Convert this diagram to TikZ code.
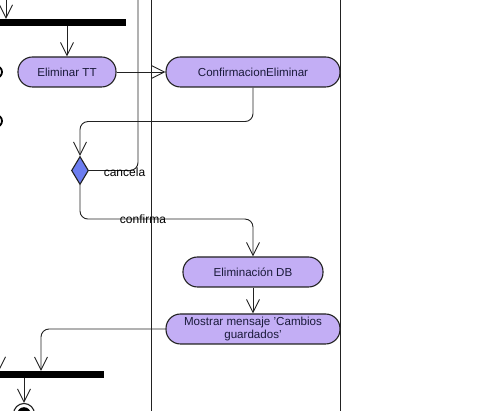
\documentclass[tikz,border=0pt]{standalone}
\usepackage{fontspec}
\setmainfont{Liberation Sans}
\usetikzlibrary{arrows.meta,shapes.geometric}
\definecolor{actfill}{HTML}{C3AEF5}
\definecolor{decfill}{HTML}{6C7DF0}
\definecolor{txt}{HTML}{1A1A3A}
\definecolor{ln}{HTML}{222222}
\begin{document}
\begin{tikzpicture}[x=1pt,y=-1pt,
  actbox/.style={draw=ln, line width=1.1pt, fill=actfill, rounded corners=14.5pt,
    minimum height=30pt, inner sep=0pt, font=\fontsize{11.6}{12.5}\selectfont, text=txt, align=center},
  flow/.style={draw=ln, line width=0.9pt, rounded corners=8pt, -{Straight Barb[length=13pt,width=13pt]}},
  plainflow/.style={draw=ln, line width=0.9pt, rounded corners=8pt},
  barnode/.style={fill=black, inner sep=0pt, minimum height=7pt},
  lbl/.style={font=\fontsize{12}{12}\selectfont, inner sep=0pt, text=black},
  lane/.style={draw=ln, line width=0.9pt}]
\clip (0,0) rectangle (488,411);
\fill[white] (0,0) rectangle (488,411);
% swimlane lines
\draw[lane] (151,-2) -- (151,413);
\draw[lane] (340,-2) -- (340,413);
% partial nodes at the left edge
\draw[line width=1.8pt] (-4,72) circle (6);
\draw[line width=1.8pt] (-4,121) circle (6);
% nodes
\node[barnode, minimum width=136pt] (bar1) at (58,22.5) {};
\node[barnode, minimum width=114pt] (bar2) at (47,374.5) {};
\node[actbox, minimum width=98pt] (elim) at (67,72) {Eliminar TT};
\node[actbox, minimum width=174pt] (conf) at (253,72) {ConfirmacionEliminar};
\node[diamond, draw=ln, line width=1.1pt, fill=decfill, inner sep=0pt, minimum width=17pt, minimum height=28pt] (dia) at (80,170.5) {};
\node[actbox, minimum width=140pt] (edb) at (253,272) {Eliminación DB};
\node[actbox, minimum width=174pt] (most) at (253,329) {Mostrar mensaje 'Cambios\\guardados'};
\node[circle, draw=ln, line width=1.1pt, fill=white, minimum size=21pt, inner sep=0pt] (fin) at (24,414) {};
\fill[black] (fin.center) circle (6.8);
% free ends
\coordinate (in1) at (6,-5);
\coordinate (in2) at (-1,330);
\coordinate (cancelEnd) at (138,-5);
\coordinate (j2) at (41,371);
% connectors
\draw[flow] (in1) -- (in1 |- bar1.north);
\draw[flow] (bar1.south -| elim) -- (elim.north);
\draw[flow] (elim.east) -- (conf.west);
\draw[flow] (conf.south) -- ++(0,34) -| (dia.north);
\draw[plainflow] (dia.east) -| (cancelEnd);
\node[lbl] (lcancel) at (124.5,172) {cancela};
\draw[flow] (dia.south) -- ++(0,34) -| (edb.north);
\node[lbl] (lconf) at (143,219) {confirma};
\draw[flow] (edb.south) -- (most.north);
\draw[flow] (most.west) -| (j2);
\draw[flow] (in2) -- (in2 |- bar2.north);
\draw[flow] (bar2.south -| fin) -- (fin.north);
\end{tikzpicture}
\end{document}
